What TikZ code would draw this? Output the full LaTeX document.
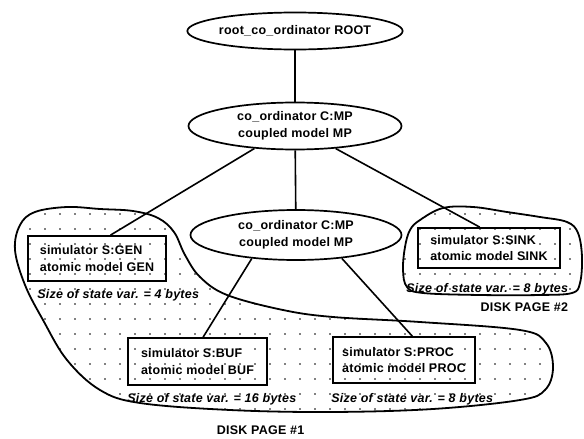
\documentclass[tikz,border=0pt]{standalone}
\usepackage{fontspec}
\setmainfont{Liberation Sans}[LetterSpace=2.0]
\usetikzlibrary{positioning,shapes.geometric,patterns.meta}
\tikzset{
  coordnode/.style={ellipse, draw, line width=1.7pt, align=center, inner sep=0pt},
  simbox/.style={draw, line width=1.8pt, align=left, inner sep=0pt},
  sizelbl/.style={font=\fontsize{12.5}{15}\selectfont\bfseries\itshape, inner sep=0pt},
  pagelbl/.style={font=\fontsize{12.5}{15}\selectfont\bfseries, inner sep=0pt},
  diskpage/.style={draw, line width=1.8pt, pattern={Dots[distance=15pt, radius=0.8pt]}},
  link/.style={line width=1.6pt},
}
\begin{document}
\begin{tikzpicture}[x=1pt, y=-1pt, font=\fontsize{12.5}{16.5}\selectfont\bfseries]
  \useasboundingbox (0,0) rectangle (584,439);

  % disk pages go underneath the tree
  \draw[diskpage] plot[smooth cycle, tension=0.6] coordinates {
    (15,250) (20,225) (35,212) (67,207) (100,209) (133,211) (158,218)
    (174,232) (185,255) (200,277) (227,295) (283,310) (333,317) (420,322)
    (520,330) (546,343) (553,368) (545,390) (520,400) (433,409) (330,412)
    (230,410) (140,403) (100,390) (67,360) (43,320) (25,285)};
  \draw[diskpage] plot[smooth cycle, tension=0.6] coordinates {
    (405,247) (410,230) (420,220) (443,208) (473,207) (507,212) (540,217)
    (567,222) (578,233) (582,257) (580,283) (572,293) (540,295) (480,295)
    (423,293) (407,287) (403,270)};

  % processors
  \node[coordnode, minimum width=212pt, minimum height=37pt] (root) at (295,31) {root\_co\_ordinator ROOT};
  \node[coordnode, minimum width=213pt, minimum height=47pt] (mp) at (295,126) {co\_ordinator C:MP\\coupled model MP};
  \node[coordnode, minimum width=211pt, minimum height=50pt] (sub) at (296,235) {co\_ordinator C:MP\\coupled model MP};

  \node[simbox, minimum width=138pt, minimum height=45pt] (gen) at (97,258.5) {simulator S:GEN\\atomic model GEN};
  \node[simbox, minimum width=142pt, minimum height=40pt] (sink) at (489,248) {simulator S:SINK\\atomic model SINK};
  \node[simbox, minimum width=139pt, minimum height=47pt] (buf) at (197.5,361.5) {simulator S:BUF\\atomic model BUF};
  \node[simbox, minimum width=142pt, minimum height=46pt] (proc) at (404,360) {simulator S:PROC\\atomic model PROC};

  % state sizes
  \node[sizelbl, below right=7pt and 10pt of gen.south west] (gensize) {Size of state var. = 4 bytes};
  \node[sizelbl, below right=14pt and -11pt of sink.south west] (sinksize) {Size of state var. = 8 bytes};
  \node[sizelbl, below right=7pt and 0pt of buf.south west] (bufsize) {Size of state var. = 16 bytes};
  \node[sizelbl, below right=9pt and -1pt of proc.south west] (procsize) {Size of state var. = 8 bytes};

  \node[pagelbl, below left=8pt and 0pt of sinksize.south east] (page2) {DISK PAGE \#2};
  \node[pagelbl] (page1) at (260.5,430) {DISK PAGE \#1};

  % tree
  \draw[link] (root) -- (mp);
  \draw[link] (mp) -- (sub);
  \draw[link] (mp.209) -- (gen.60);
  \draw[link] (mp.331) -- (sink.114);
  \draw[link] (sub.208) -- (buf.77);
  \draw[link] (sub.333) -- (proc.71);
\end{tikzpicture}
\end{document}
